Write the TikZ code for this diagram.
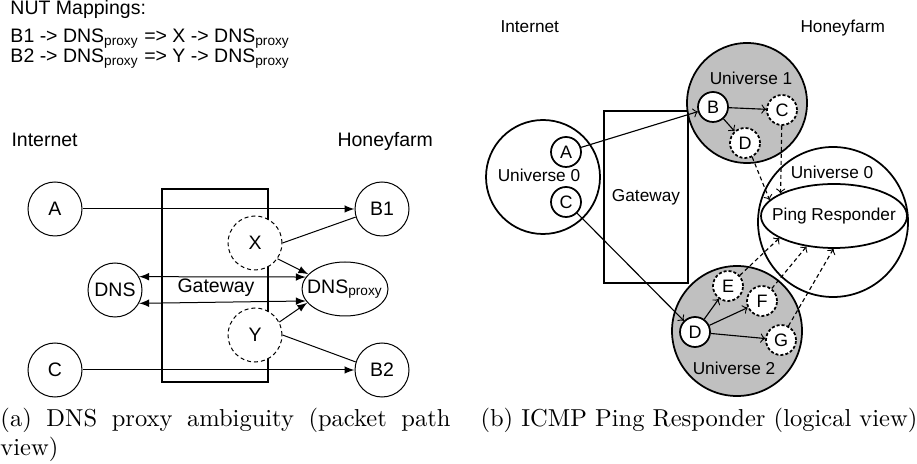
\documentclass[tikz,border=0pt]{standalone}
\usepackage{fontspec}
\newfontfamily\arialfont{Liberation Sans}
\usepackage{tikz}
\usetikzlibrary{arrows,shapes,positioning,calc}
\definecolor{unigray}{RGB}{192,192,192}

\begin{document}
\begin{tikzpicture}[x=0.4pt,y=-0.4pt]

    \tikzstyle{every node}=[font=\arialfont\fontsize{7.8}{9}\selectfont]
    \tikzstyle{every edge}=[draw,line width=0.4pt,>=latex]
    \tikzstyle{host}=[circle,draw,fill=white,line width=0.4pt,minimum size=21.6pt,inner sep=0pt]
    \tikzstyle{vhost}=[host,dash pattern=on 1.6pt off 1.2pt]
    \tikzstyle{lbl}=[inner sep=0pt]
    \tikzstyle{smalltxt}=[inner sep=0pt,font=\arialfont\fontsize{6.9}{8}\selectfont]
    \tikzstyle{uhost}=[circle,draw,fill=white,line width=0.7pt,minimum size=12pt,inner sep=0pt,font=\arialfont\fontsize{7.2}{8}\selectfont]
    \tikzstyle{uvhost}=[uhost,dash pattern=on 1.2pt off 0.8pt]
    \tikzstyle{universe}=[circle,draw,line width=0.7pt,inner sep=0pt]
    \tikzstyle{uedge}=[->,>=to,line width=0.45pt]
    \tikzstyle{dedge}=[uedge,dash pattern=on 1.6pt off 1.2pt]
    \tikzstyle{captxt}=[inner sep=0pt,anchor=north west,font=\rmfamily\fontsize{9.8}{11.6}\selectfont]

    \useasboundingbox (0,0) rectangle (917,464);

    \node[lbl,anchor=base west] (map0) at (10,15) {NUT Mappings:};
    \node[lbl,anchor=base west] (map1) at (10,43) {B1 -> DNS\textsubscript{proxy} => X -> DNS\textsubscript{proxy}};
    \node[lbl,anchor=base west] (map2) at (10,63) {B2 -> DNS\textsubscript{proxy} => Y -> DNS\textsubscript{proxy}};

    \node[lbl,anchor=base west] (inet1) at (11,147) {Internet};
    \node[lbl,anchor=base west] (farm1) at (337,147) {Honeyfarm};

    \node[draw,line width=0.5pt,minimum width=42.4pt,minimum height=77.2pt,inner sep=0pt] (gw1) at (215,285.5) {};
    \node[lbl,anchor=base] (gwtxt1) at (216,293) {Gateway};

    \node[host] (A) at (55,209) {A};
    \node[host] (C) at (55,370) {C};
    \node[host] (DNS) at (115,290) {DNS};
    \node[vhost] (X) at (255,243) {X};
    \node[vhost] (Y) at (255,335) {Y};
    \node[host] (B1) at (382,209) {B1};
    \node[host] (B2) at (382,370) {B2};
    \node[ellipse,draw,fill=white,line width=0.4pt,minimum width=34.4pt,minimum height=21.6pt,inner sep=0pt] (proxy) at (345,289) {};
    \node[lbl] (proxytxt) at (345,289) {DNS\textsubscript{proxy}};

    \path (A) edge[->] (B1);
    \path (C) edge[->] (B2);
    \path (X.east) edge (B1.197);
    \path (Y.east) edge (B2.163);
    \path (X.-35) edge[->] (proxy.158);
    \path (Y.28) edge[->] (proxy.200);
    \path (DNS.29) edge[<->] (proxy.163);
    \path (DNS.-29) edge[<->] (proxy.197);

    \node[smalltxt,anchor=base west] (inet2) at (500,33) {Internet};
    \node[smalltxt,anchor=base west] (farm2) at (800,33) {Honeyfarm};

    \node[universe,minimum size=45.6pt] (uni0a) at (543,177) {};
    \node[smalltxt,anchor=base] (u0a) at (539,182) {Universe 0};
    \node[uhost] (a0) at (566,152) {A};
    \node[uhost] (c0) at (566,202) {C};
    \node[draw,line width=0.6pt,minimum width=33.6pt,minimum height=68.8pt,smalltxt] (gw2) at (646,197) {Gateway};

    \node[universe,fill=unigray,minimum size=48pt] (uni1) at (747,103) {};
    \node[smalltxt,anchor=base] (u1) at (751,85) {Universe 1};
    \node[uhost] (b1) at (713,107) {B};
    \node[uvhost] (c1) at (782,110) {C};
    \node[uvhost] (d1) at (745,143) {D};

    \node[universe,minimum size=60pt] (uni0b) at (833,222) {};
    \node[smalltxt,anchor=base] (u0b) at (832,179) {Universe 0};
    \node[ellipse,draw,line width=0.7pt,minimum width=58.4pt,minimum height=25.6pt,inner sep=0pt] (ping) at (834,216) {};
    \node[smalltxt] (pingtxt) at (834,216) {Ping Responder};

    \node[universe,fill=unigray,minimum size=52pt] (uni2) at (737,331) {};
    \node[smalltxt,anchor=base] (u2) at (734,375) {Universe 2};
    \node[uhost] (d2) at (695,332) {D};
    \node[uvhost] (e2) at (728,286) {E};
    \node[uvhost] (f2) at (762,301) {F};
    \node[uvhost] (g2) at (781,340) {G};

    \path (a0) edge[uedge] (b1);
    \path (c0) edge[uedge] (d2);
    \path (b1) edge[uedge] (c1);
    \path (b1) edge[uedge] (d1);
    \path (d2) edge[uedge] (e2);
    \path (d2) edge[uedge] (f2);
    \path (d2) edge[uedge] (g2);
    \path (d1.-63) edge[dedge] (ping.166);
    \path (c1) edge[dedge] (ping.157);
    \path (e2.42) edge[dedge] (ping.202);
    \path (f2.52) edge[dedge] (ping.228);
    \path (g2.62) edge[dedge] (ping.269);

    \node[captxt,text width=180pt,align=justify] (capa) at (0,408) {(a) DNS proxy ambiguity (packet path view)};
    \node[captxt] (capb) at (480,408) {(b) ICMP Ping Responder (logical view)};

\end{tikzpicture}
\end{document}
